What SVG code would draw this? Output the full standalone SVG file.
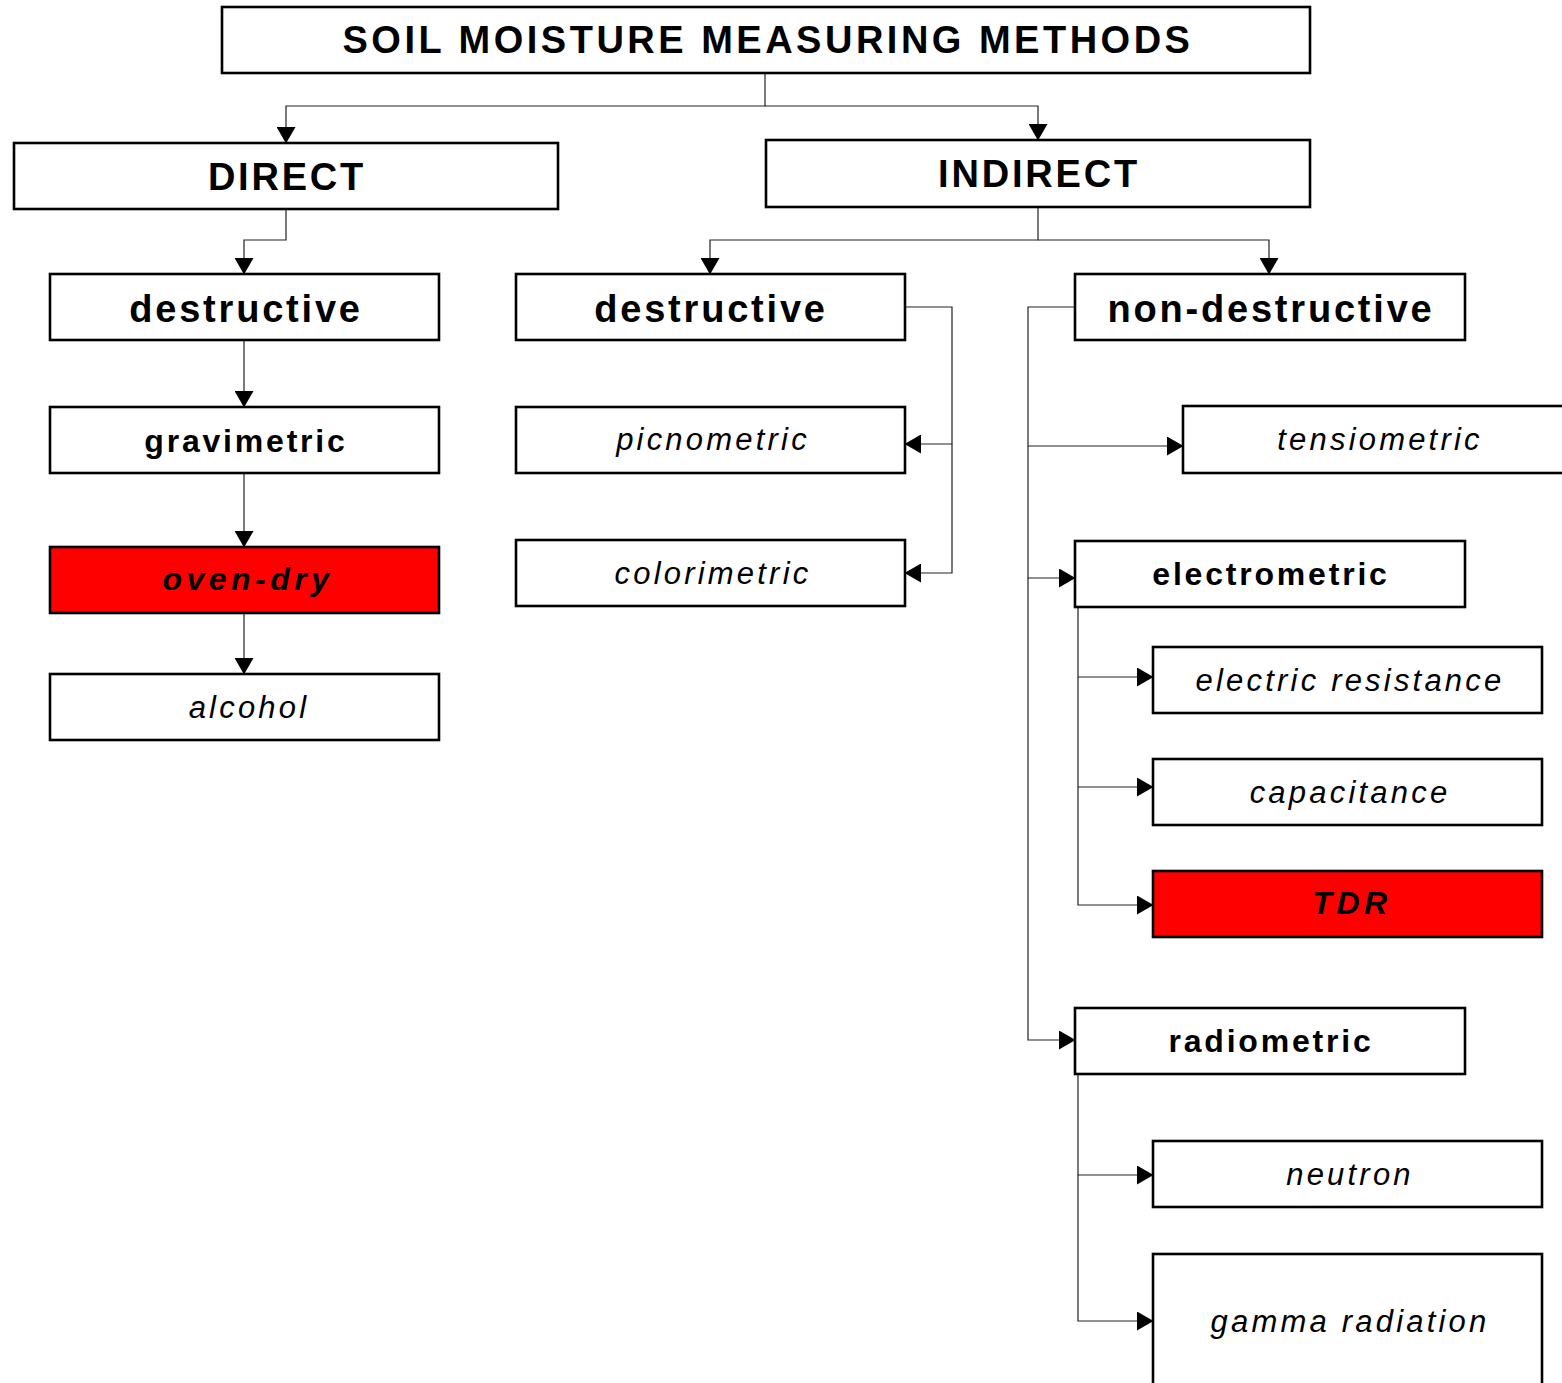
<svg xmlns="http://www.w3.org/2000/svg" width="1562" height="1383" viewBox="0 0 1562 1383">
<defs>
<marker id="arr" markerUnits="userSpaceOnUse" markerWidth="17" markerHeight="19" viewBox="0 0 17 19" refX="16" refY="9.5" orient="auto">
<path d="M0,0 L16.5,9.5 L0,19 z" fill="#000"/>
</marker>
<style>
.box{fill:#fff;stroke:#000;stroke-width:2.6}
.red{fill:#ff0000;stroke:#000;stroke-width:2.6}
.con{fill:none;stroke:#222;stroke-width:1.2;marker-end:url(#arr)}
text{font-family:"Liberation Sans",Arial,sans-serif;fill:#000;text-anchor:middle}
.t0{font-size:38px;font-weight:bold;letter-spacing:3.5px}
.t1{font-size:38px;font-weight:bold;letter-spacing:2.8px}
.t2{font-size:32px;font-weight:bold;letter-spacing:2.8px}
.t3{font-size:31px;font-style:italic;letter-spacing:3.2px}
.t4{font-size:32px;font-weight:bold;font-style:italic;letter-spacing:4.5px}
</style>
</defs>
<rect width="1562" height="1383" fill="#fff"/>
<g id="connectors">
<path class="con" d="M765,73 V106 H286 V143"/>
<path class="con" d="M765,106 H1038 V140"/>
<path class="con" d="M286,209 V240 H244 V274"/>
<path class="con" d="M244,340 V407"/>
<path class="con" d="M244,473 V547"/>
<path class="con" d="M244,613 V674"/>
<path class="con" d="M1038,207 V240 H710 V274"/>
<path class="con" d="M1038,240 H1269 V274"/>
<path class="con" d="M905,307 H952 V444 H905"/>
<path class="con" d="M952,444 V573 H905"/>
<path class="con" d="M1075,307 H1028 V446 H1183"/>
<path class="con" d="M1028,446 V578 H1075"/>
<path class="con" d="M1028,578 V1040 H1075"/>
<path class="con" d="M1078,607 V677 H1153"/>
<path class="con" d="M1078,677 V787 H1153"/>
<path class="con" d="M1078,787 V905 H1153"/>
<path class="con" d="M1078,1074 V1175 H1153"/>
<path class="con" d="M1078,1175 V1321 H1153"/>
</g>
<g id="title"><rect class="box" x="222" y="7" width="1088" height="66"/><text class="t0" x="768" y="53">SOIL MOISTURE MEASURING METHODS</text></g>
<g id="direct"><rect class="box" x="14" y="143" width="544" height="66"/><text class="t1" x="287" y="190">DIRECT</text></g>
<g id="indirect"><rect class="box" x="766" y="140" width="544" height="67"/><text class="t1" x="1039" y="187">INDIRECT</text></g>
<g id="direct-destructive"><rect class="box" x="50" y="274" width="389" height="66"/><text class="t1" x="246" y="322">destructive</text></g>
<g id="gravimetric"><rect class="box" x="50" y="407" width="389" height="66"/><text class="t2" x="246" y="452">gravimetric</text></g>
<g id="oven-dry"><rect class="red" x="50" y="547" width="389" height="66"/><text class="t4" x="248" y="590">oven-dry</text></g>
<g id="alcohol"><rect class="box" x="50" y="674" width="389" height="66"/><text class="t3" x="249" y="718">alcohol</text></g>
<g id="indirect-destructive"><rect class="box" x="516" y="274" width="389" height="66"/><text class="t1" x="711" y="322">destructive</text></g>
<g id="picnometric"><rect class="box" x="516" y="407" width="389" height="66"/><text class="t3" x="713" y="450">picnometric</text></g>
<g id="colorimetric"><rect class="box" x="516" y="540" width="389" height="66"/><text class="t3" x="713" y="584">colorimetric</text></g>
<g id="non-destructive"><rect class="box" x="1075" y="274" width="390" height="66"/><text class="t1" x="1271" y="322">non-destructive</text></g>
<g id="tensiometric"><rect class="box" x="1183" y="406" width="389" height="67"/><text class="t3" x="1380" y="450">tensiometric</text></g>
<g id="electrometric"><rect class="box" x="1075" y="541" width="390" height="66"/><text class="t2" x="1271" y="585">electrometric</text></g>
<g id="electric-resistance"><rect class="box" x="1153" y="647" width="389" height="66"/><text class="t3" x="1350" y="691">electric resistance</text></g>
<g id="capacitance"><rect class="box" x="1153" y="759" width="389" height="66"/><text class="t3" x="1350" y="803">capacitance</text></g>
<g id="tdr"><rect class="red" x="1153" y="871" width="389" height="66"/><text class="t4" x="1352" y="914">TDR</text></g>
<g id="radiometric"><rect class="box" x="1075" y="1008" width="390" height="66"/><text class="t2" x="1271" y="1052">radiometric</text></g>
<g id="neutron"><rect class="box" x="1153" y="1141" width="389" height="66"/><text class="t3" x="1350" y="1185">neutron</text></g>
<g id="gamma-radiation"><rect class="box" x="1153" y="1254" width="389" height="140"/><text class="t3" x="1350" y="1332">gamma radiation</text></g>
</svg>
